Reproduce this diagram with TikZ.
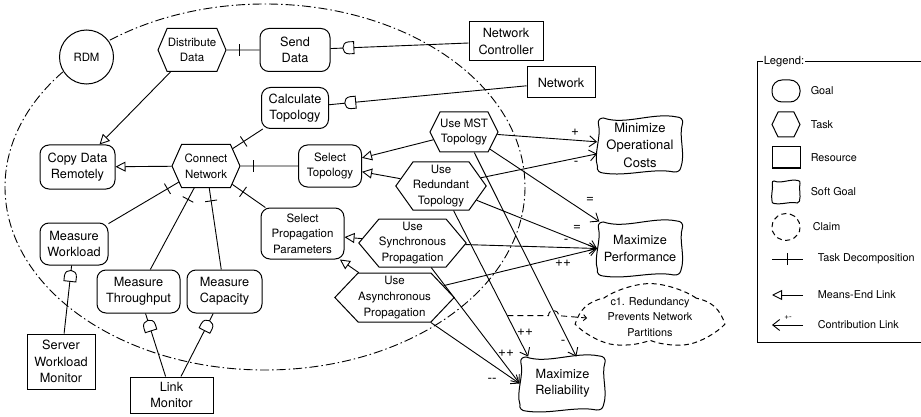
\documentclass[tikz,border=0pt]{standalone}
\usepackage{fontspec}
\setmainfont{TeX Gyre Heros}
\usetikzlibrary{shapes.symbols,shapes.misc,arrows.meta,calc,decorations.markings}

\newcommand\softgoal[7]{%
  \begin{scope}[shift={(#2,#3)}, x=#4pt, y=-#5pt]
    \draw[sgline] (-0.86,-1) .. controls (-0.35,-0.72) and (0.3,-1.22) .. (0.86,-1.04)
      .. controls (0.96,-1.04) and (1.02,-0.94) .. (1,-0.8)
      .. controls (0.9,-0.3) and (1.08,0.3) .. (0.96,0.84)
      .. controls (0.94,0.96) and (0.88,1.01) .. (0.8,1)
      .. controls (0.3,0.84) and (-0.3,1.18) .. (-0.86,1.04)
      .. controls (-0.96,1.03) and (-1.02,0.94) .. (-1,0.8)
      .. controls (-1.1,0.3) and (-0.9,-0.3) .. (-0.98,-0.8)
      .. controls (-0.99,-0.93) and (-0.94,-1) .. (-0.86,-1) -- cycle;
  \end{scope}
  \node[sgnode, #6, minimum width={2*#4}, minimum height={2*#5}] (#1) at (#2,#3) {#7};}

\begin{document}
\begin{tikzpicture}[x=1pt,y=-1pt, line width=0.9pt,
  goal/.style={draw, fill=white, rounded corners=9pt, align=center, inner sep=0pt, line width=1pt},
  res/.style={draw, fill=white, align=center, inner sep=0pt, line width=1pt},
  task/.style={draw, fill=white, shape=signal, signal to=east and west, align=center, inner sep=0pt, line width=1pt},
  sgline/.style={draw, fill=white, line width=1pt},
  sgnode/.style={inner sep=0pt, align=center},
  claimst/.style={draw, fill=white, cloud, cloud puffs=5, cloud puff arc=70, cloud ignores aspect, dash pattern=on 5pt off 3.5pt, align=center, inner sep=0pt, line width=1pt},
  fbig/.style={font=\fontsize{12.7}{16.5}\selectfont},
  fsmall/.style={font=\fontsize{11.5}{15.6}\selectfont},
  flegend/.style={font=\fontsize{10.8}{12}\selectfont},
  decomp/.style={postaction={decorate, decoration={markings, mark=at position #1 with {\draw[line width=0.9pt] (0,-6pt) -- (0,6pt);}}}},
  decomp/.default=13pt,
  meansend/.style={-{Triangle[open, length=10pt, width=10pt]}},
  contrib/.style={-{Straight Barb[length=7pt, width=11pt]}},
  dep/.style={postaction={decorate, decoration={markings, mark=at position #1 with {\draw[fill=white, line width=0.9pt] (5,-6) -- (5,6) -- (0,6) .. controls (-8,6) and (-8,-6) .. (0,-6) -- cycle;}}}},
  clabel/.style={font=\fontsize{13.5}{14}\selectfont, inner sep=0pt},
  claimlink/.style={dash pattern=on 6pt off 4pt, -{Straight Barb[length=3pt, width=6pt]}},
  boundary/.style={dash pattern=on 9pt off 3pt on 1.5pt off 3pt, line width=0.9pt},
]
\useasboundingbox (0,0) rectangle (921,417);

% actor boundary
\draw[boundary] (265,187) ellipse [x radius=260, y radius=183];

% nodes
\node[draw, circle, fill=white, minimum size=54, line width=1pt, font=\fontsize{11.4}{14}\selectfont] (rdm) at (86.5,57) {RDM};
\node[task, fsmall, signal pointer angle=134, minimum width=68, minimum height=43] (distr) at (192,50) {Distribute\\Data};
\node[goal, fbig, minimum width=70, minimum height=43] (send) at (295,50) {Send\\Data};
\node[res, fbig, minimum width=74, minimum height=39] (netctrl) at (506,41.5) {Network\\Controller};
\node[goal, fbig, minimum width=67, minimum height=41] (calc) at (295,108) {Calculate\\Topology};
\node[res, fbig, minimum width=68, minimum height=31] (network) at (561,82.5) {Network};
\node[task, fsmall, signal pointer angle=127, minimum width=68, minimum height=40] (mst) at (464,132) {Use MST\\Topology};
\node[goal, fsmall, minimum width=63, minimum height=42] (seltop) at (330,166) {Select\\Topology};
\node[goal, fbig, minimum width=75, minimum height=44] (copy) at (77.5,167) {Copy Data\\Remotely};
\node[task, fsmall, signal pointer angle=132, minimum width=68, minimum height=43] (conn) at (206,166) {Connect\\Network};
\node[task, fsmall, signal pointer angle=109, minimum width=82, minimum height=48] (red) at (441,186) {Use\\Redundant\\Topology};
\softgoal{moc}{640}{145}{42.5}{27}{font=\fontsize{13}{17.5}\selectfont}{Minimize\\Operational\\Costs}
\softgoal{maxperf}{640}{248.5}{42.5}{26.5}{fbig}{Maximize\\Performance}
\node[goal, fsmall, minimum width=83, minimum height=51] (spp) at (302.5,233.5) {Select\\Propagation\\Parameters};
\node[task, fsmall, signal pointer angle=100, minimum width=105, minimum height=48] (sync) at (412.5,243) {Use\\Synchronous\\Propagation};
\node[task, fsmall, signal pointer angle=93, minimum width=105, minimum height=49] (async) at (394.5,297.5) {Use\\Asynchronous\\Propagation};
\node[goal, fbig, minimum width=68, minimum height=42] (mw) at (74,244) {Measure\\Workload};
\node[goal, fbig, minimum width=83, minimum height=43] (mt) at (138.5,291.5) {Measure\\Throughput};
\node[goal, fbig, minimum width=75, minimum height=43] (mc) at (224.5,291.5) {Measure\\Capacity};
\node[res, fbig, minimum width=68, minimum height=55] (swm) at (61,361.5) {Server\\Workload\\Monitor};
\node[res, fbig, minimum width=83, minimum height=36] (lm) at (171.5,395) {Link\\Monitor};
\node[claimst, font=\fontsize{10.8}{15.5}\selectfont, minimum width=136, minimum height=60] (claim) at (650,317) {c1. Redundancy\\Prevents Network\\Partitions};
\softgoal{maxrel}{562.5}{383.5}{42.5}{26.5}{fbig}{Maximize\\Reliability}

% task decompositions
\draw[decomp] (distr) -- (send);
\draw[decomp] (conn) -- (calc);
\draw[decomp] (conn) -- (seltop);
\draw[decomp] (conn) -- (spp);
\draw[decomp] (conn) -- (mw);
\draw[decomp] (conn) -- (mt);
\draw[decomp] (conn) -- (mc);

% means-end links
\draw[meansend] (distr) -- (copy);
\draw[meansend] (conn) -- (copy);
\draw[meansend] (mst) -- (seltop);
\draw[meansend] (red) -- (seltop);
\draw[meansend] (sync) -- (spp);
\draw[meansend] (async) -- (spp);

% dependencies
\draw[dep=0.133] (send) -- (netctrl);
\draw[dep=0.11] (calc) -- (network);
\draw[dep=0.16] (mw) -- (swm);
\draw[dep=0.2] (mt) -- (lm);
\draw[dep=0.2] (mc) -- (lm);

% contributions
\draw[contrib] (mst) -- (moc);
\draw[contrib] (red) -- (moc);
\draw[contrib] (mst) -- (maxperf);
\draw[contrib] (red) -- (maxperf.west);
\draw[contrib] (sync) -- (maxperf.west);
\draw[contrib] (async) -- (maxperf.west);
\draw[contrib] (red) -- coordinate[pos=0.72] (clstart) ($(maxrel.north west)!0.1!(maxrel.north east)$);
\draw[contrib] (mst) -- ($(maxrel.north west)!0.66!(maxrel.north east)$);
\draw[contrib] (sync) -- (maxrel.west);
\draw[contrib] (async) -- (maxrel.west);

\node[clabel] (l1) at (575,132) {+};
\node[clabel] (l2) at (576,163) {-};
\node[clabel] (l3) at (590,200) {=};
\node[clabel] (l4) at (577,228) {=};
\node[clabel] (l5) at (566,241) {-};
\node[clabel] (l6) at (563,263) {++};
\node[clabel] (l7) at (525,332) {++};
\node[clabel] (l8) at (563,342) {-};
\node[clabel] (l9) at (506,353) {++};
\node[clabel] (l10) at (492,380) {-{}-};

% claim link with hop
\coordinate (hx1) at (548.5,0);
\coordinate (hx2) at (558.5,0);
\coordinate (clend) at ($(claim.west)+(10,1)$);
\draw[claimlink] (clstart) -- (clstart -| hx1) .. controls ($(clstart -| hx1)+(0,-7)$) and ($(clstart -| hx2)+(0,-7)$) .. (clstart -| hx2) -- (clend);

% legend
\draw[line width=1pt] (757,62) rectangle (940,342);
\node[fill=white, inner sep=1.2pt, font=\fontsize{11.2}{12}\selectfont] (legtitle) at (784,62) {Legend:};
\node[goal, rounded corners=10pt, minimum width=28, minimum height=22] (lgoal) at (786,91) {};
\node[flegend, anchor=west] (lgoalt) at (807,91) {Goal};
\node[task, signal pointer angle=128, minimum width=28, minimum height=25] (ltask) at (786,124.5) {};
\node[flegend, anchor=west] (ltaskt) at (807,124.5) {Task};
\node[res, minimum width=28, minimum height=21] (lres) at (786,157.5) {};
\node[flegend, anchor=west] (lrest) at (807,158) {Resource};
\softgoal{lsoft}{786}{192}{14}{11}{flegend}{}
\node[flegend, anchor=west] (lsoftt) at (807,192) {Soft Goal};
\node[claimst, cloud puffs=5, minimum width=28, minimum height=27] (lclaim) at (786,227) {};
\node[flegend, anchor=west] (lclaimt) at (809,227) {Claim};
\coordinate (ltdA) at (772,259);
\coordinate (ltdB) at (803,259);
\draw[decomp=0.5] (ltdA) -- (ltdB);
\node[flegend, anchor=west] (ltdt) at (814,259) {Task Decomposition};
\coordinate (lmeA) at (772,295);
\coordinate (lmeB) at (803,295);
\draw[meansend] (lmeB) -- (lmeA);
\node[flegend, anchor=west] (lmet) at (814,295) {Means-End Link};
\coordinate (lcA) at (772,325);
\coordinate (lcB) at (803,325);
\draw[contrib] (lcB) -- (lcA);
\node[font=\fontsize{8}{9}\selectfont, inner sep=0pt] (lcpm) at (788,318) {+-};
\node[flegend, anchor=west] (lct) at (814,325) {Contribution Link};
\end{tikzpicture}
\end{document}
